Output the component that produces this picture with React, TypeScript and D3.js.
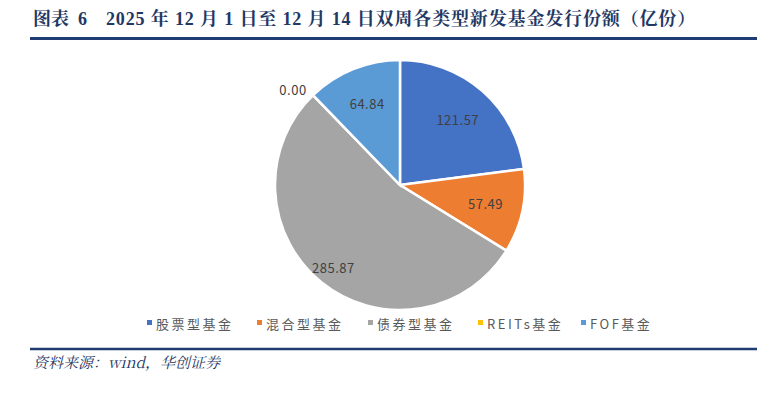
import React from "react";
import * as d3 from "d3";

const categories = ["股票型基金", "混合型基金", "债券型基金", "REITs基金", "FOF基金"];
const values = [121.57, 57.49, 285.87, 0.0, 64.84];
const colors = ["#4472C4", "#ED7D31", "#A5A5A5", "#FFC000", "#5B9BD5"];

const W = 780;
const H = 394;
const cx = 400;
const cy = 185;
const r = 125;

export default function App() {
  const data = categories.map((c, i) => ({ name: c, value: values[i], color: colors[i] }));
  const pie = d3.pie<any>().sort(null).value(d => d.value);
  const arcs = pie(data);
  const arc = d3.arc<any>().innerRadius(0).outerRadius(r);
  // largest slice gets its label pushed further out, like Excel's best fit
  const maxV = d3.max(values) || 0;
  const labelPos = (a: any) => {
    const k = a.data.value === maxV ? 0.85 : 0.7;
    return d3.arc<any>().innerRadius(r * k).outerRadius(r * k).centroid(a);
  };

  const legendX = [147, 257, 368, 478, 581];
  const titleFont = "'Liberation Serif','Noto Serif CJK SC','Noto Sans CJK SC',serif";

  return (
    <svg width={W} height={H} style={{ position: "absolute", left: 0, top: 0, background: "#fff" }}>
      <text x={33} y={25} fontFamily={titleFont} fontWeight="bold" fontSize={18} fill="#1F3864">
        <tspan>图表</tspan>
        <tspan x={78}>6</tspan>
        <tspan x={106} letterSpacing={0.85}>2025 年 12 月 1 日至 12 月 14 日双周各类型新发基金发行份额（亿份）</tspan>
      </text>
      <line x1={30} x2={757} y1={38.5} y2={38.5} stroke="#1F3C73" strokeWidth={3} />
      <g transform={`translate(${cx},${cy})`}>
        {arcs.map((a, i) => (
          <path key={i} d={arc(a) || ""} fill={a.data.color} stroke="#fff" strokeWidth={2.5} />
        ))}
        {arcs.map((a, i) => {
          if (a.data.value === 0) return null;
          const [x, y] = labelPos(a);
          return (
            <text key={"l" + i} x={x} y={y} textAnchor="middle" dominantBaseline="central"
              fontFamily="'Noto Sans CJK SC',sans-serif" fontSize={13} fill="#404040" letterSpacing={0.5}>
              {a.data.value.toFixed(2)}
            </text>
          );
        })}
      </g>
      <text x={293} y={89} textAnchor="middle" dominantBaseline="central"
        fontFamily="'Noto Sans CJK SC',sans-serif" fontSize={13} fill="#404040" letterSpacing={0.5}>0.00</text>
      {data.map((d, i) => (
        <g key={"lg" + i} transform={`translate(${legendX[i]},323)`}>
          <rect x={0} y={-3} width={5} height={5} fill={d.color} />
          <text x={9} y={0} dominantBaseline="central" fontFamily="'Noto Sans CJK SC',sans-serif"
            fontSize={13} fill="#595959" letterSpacing={2.5}>{d.name}</text>
        </g>
      ))}
      <line x1={30} x2={757} y1={349} y2={349} stroke="#1F3C73" strokeWidth={2.5} />
      <text x={33} y={368} fontFamily="'Noto Serif CJK SC','Liberation Serif','Noto Sans CJK SC',serif" fontStyle="italic"
        fontSize={15} fill="#1F3864">资料来源：wind，华创证券</text>
    </svg>
  );
}
